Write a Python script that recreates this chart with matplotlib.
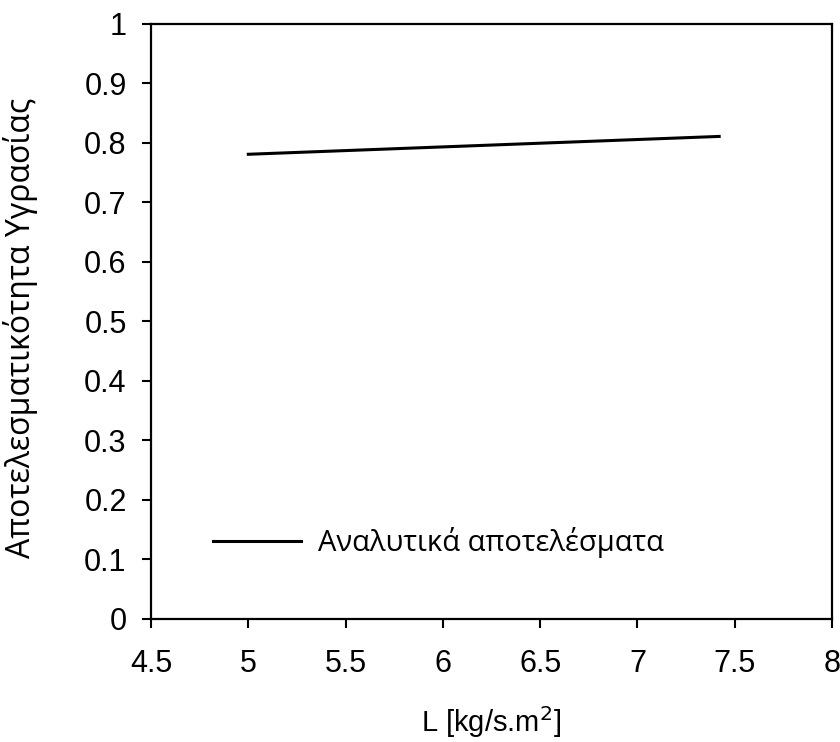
import matplotlib
matplotlib.use('Agg')
import matplotlib.pyplot as plt

plt.rcParams['font.family'] = ['Liberation Sans', 'DejaVu Sans']

# data
L_values = [5.0, 7.42]
efficiency = [0.781, 0.811]
x_ticks = [4.5, 5, 5.5, 6, 6.5, 7, 7.5, 8]
y_ticks = [0, 0.1, 0.2, 0.3, 0.4, 0.5, 0.6, 0.7, 0.8, 0.9, 1]
y_tick_labels = ['0', '0.1', '0.2', '0.3', '0.4', '0.5', '0.6', '0.7', '0.8', '0.9', '1']
x_tick_labels = ['4.5', '5', '5.5', '6', '6.5', '7', '7.5', '8']

fig = plt.figure(figsize=(8.4, 7.42), dpi=100)
ax = fig.add_axes([0.1798, 0.1658, 0.8107, 0.8019])

ax.plot(L_values, efficiency, color='black', linewidth=2.2,
        label='Αναλυτικά αποτελέσματα')

ax.set_xlim(4.5, 8)
ax.set_ylim(0, 1)
ax.set_xticks(x_ticks)
ax.set_xticklabels(x_tick_labels)
ax.set_yticks(y_ticks)
ax.set_yticklabels(y_tick_labels)
ax.tick_params(direction='out', length=6.5, width=1.5, labelsize=22)
ax.tick_params(axis='y', pad=11)
ax.tick_params(axis='x', pad=15)
for s in ax.spines.values():
    s.set_linewidth(1.6)

ax.set_xlabel('L [kg/s.m$^2$]', fontsize=21, labelpad=18)
ax.set_ylabel('Αποτελεσματικότητα Υγρασίας', fontsize=23,
              family=['Open Sans', 'DejaVu Sans'])
ax.yaxis.set_label_coords(-0.166, 0.49)

leg = ax.legend(loc='center left', bbox_to_anchor=(0.091, 0.128), frameon=False,
                borderpad=0, borderaxespad=0, handlelength=3.0, handletextpad=0.6,
                prop={'family': 'Open Sans', 'size': 21})

fig.savefig('out.png', dpi=100)
